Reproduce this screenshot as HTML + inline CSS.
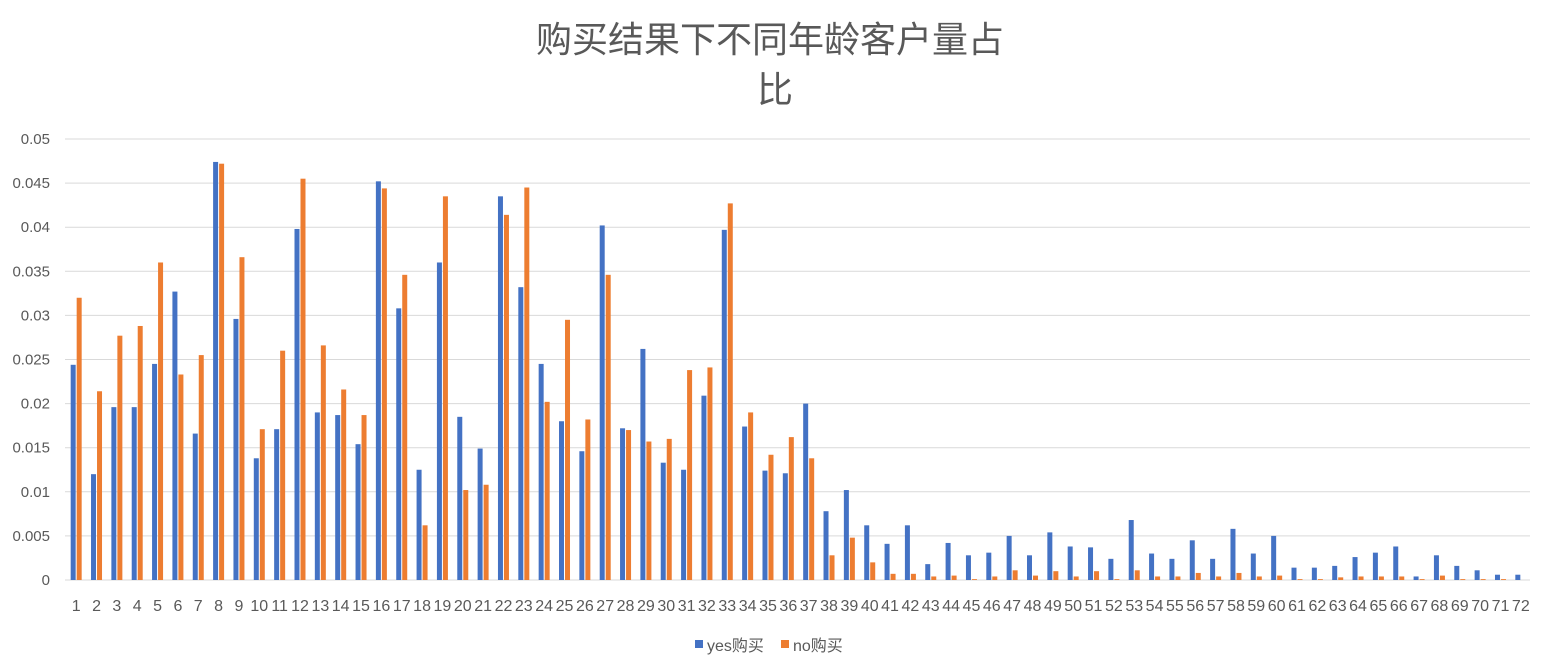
<!DOCTYPE html>
<html><head><meta charset="utf-8"><style>
html,body{margin:0;padding:0;background:#fff;}
svg text{font-family:"Liberation Sans","Noto Sans CJK SC",sans-serif;fill:#595959;}
</style></head><body>
<svg id="chart" width="1552" height="664" xmlns="http://www.w3.org/2000/svg">
<text x="770" y="52" font-size="36" text-anchor="middle">购买结果下不同年龄客户量占</text>
<text x="775" y="102" font-size="36" text-anchor="middle">比</text>
<g id="grid"></g><g id="bars"></g><g id="xl"></g>
<g>
<rect x="695" y="640" width="8" height="8" fill="#4472c4"/>
<text x="707" y="651" font-size="16">yes购买</text>
<rect x="781" y="640" width="8" height="8" fill="#ed7d31"/>
<text x="793" y="651" font-size="16">no购买</text>
</g>
</svg>
<script>
const categories = Array.from({length:72},(_, i)=>String(i+1));
const yesValues = [0.0244,0.012,0.0196,0.0196,0.0245,0.0327,0.0166,0.0474,0.0296,0.0138,0.0171,0.0398,0.019,0.0187,0.0154,0.0452,0.0308,0.0125,0.036,0.0185,0.0149,0.0435,0.0332,0.0245,0.018,0.0146,0.0402,0.0172,0.0262,0.0133,0.0125,0.0209,0.0397,0.0174,0.0124,0.0121,0.02,0.0078,0.0102,0.0062,0.0041,0.0062,0.0018,0.0042,0.0028,0.0031,0.005,0.0028,0.0054,0.0038,0.0037,0.0024,0.0068,0.003,0.0024,0.0045,0.0024,0.0058,0.003,0.005,0.0014,0.0014,0.0016,0.0026,0.0031,0.0038,0.0004,0.0028,0.0016,0.0011,0.0006,0.0006];
const noValues = [0.032,0.0214,0.0277,0.0288,0.036,0.0233,0.0255,0.0472,0.0366,0.0171,0.026,0.0455,0.0266,0.0216,0.0187,0.0444,0.0346,0.0062,0.0435,0.0102,0.0108,0.0414,0.0445,0.0202,0.0295,0.0182,0.0346,0.017,0.0157,0.016,0.0238,0.0241,0.0427,0.019,0.0142,0.0162,0.0138,0.0028,0.0048,0.002,0.0007,0.0007,0.0004,0.0005,0.0001,0.0004,0.0011,0.0005,0.001,0.0004,0.001,0.0001,0.0011,0.0004,0.0004,0.0008,0.0004,0.0008,0.0004,0.0005,0.0001,0.0001,0.0003,0.0004,0.0004,0.0004,0.0001,0.0005,0.0001,0.0001,0.0001,0];
const yTicks = ["0","0.005","0.01","0.015","0.02","0.025","0.03","0.035","0.04","0.045","0.05"];
const NS="http://www.w3.org/2000/svg";
const L=65,R=1530,Y0=580,YT=139,YMAX=0.05;
const y=v=>Y0-(v/YMAX)*(Y0-YT);
const bw=(R-L)/categories.length;
const cx=i=>L+(i+0.5)*bw+1;
function mk(tag,attrs,parent){const e=document.createElementNS(NS,tag);for(const k in attrs)e.setAttribute(k,attrs[k]);parent.appendChild(e);return e;}
const grid=document.getElementById('grid'),bars=document.getElementById('bars'),xl=document.getElementById('xl');
yTicks.forEach(t=>{const v=parseFloat(t);
 const ln=mk('line',{x1:L,x2:R,y1:y(v),y2:y(v),stroke:'#d9d9d9','stroke-width':1},grid);
 
 
 const tx=mk('text',{x:50,y:y(v)+5,'font-size':15,'text-anchor':'end'},grid);tx.textContent=t;
 
 
});
categories.forEach((c,i)=>{
 const b1=mk('rect',{x:cx(i)-5.5,y:y(yesValues[i]),width:5,height:Y0-y(yesValues[i]),fill:'#4472c4'},bars);
 
 
 const b2=mk('rect',{x:cx(i)+0.5,y:y(noValues[i]),width:5,height:Y0-y(noValues[i]),fill:'#ed7d31'},bars);
 
 
 const t=mk('text',{x:cx(i),y:611,'font-size':16,'text-anchor':'middle'},xl);t.textContent=c;
 
 
});
</script>
</body></html>
